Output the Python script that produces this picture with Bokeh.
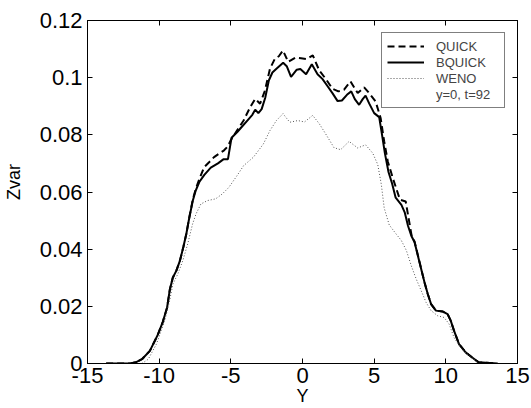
from bokeh.plotting import figure
from bokeh.models import (Range1d, FixedTicker, LinearAxis, CustomJSTickFormatter,
                          Legend, LegendItem)
from bokeh.embed import file_html
from bokeh.resources import INLINE

FONT = "Liberation Sans"

x_ticks = [-15, -10, -5, 0, 5, 10, 15]
y_ticks = [0, 0.02, 0.04, 0.06, 0.08, 0.1, 0.12]

bq_x = [-13.7, -12.0, -11.6, -11.2, -10.65, -10.1, -9.75, -9.45, -9.25, -9.05, -8.8, -8.55, -8.3, -8.1, -7.9,
        -7.65, -7.45, -7.2, -6.85, -6.4, -5.9, -5.5, -5.2, -4.95, -4.55, -4.2, -3.85, -3.5, -3.3, -3.08,
        -2.85, -2.6, -2.35, -2.1, -1.8, -1.35, -1.1, -0.8, -0.4, -0.15, 0.25, 0.65, 1.05, 1.4, 1.75,
        2.1, 2.45, 2.75, 3.1, 3.4, 3.65, 3.95, 4.2, 4.4, 4.65, 5.0, 5.35, 5.55, 5.75, 6.0,
        6.25, 6.5, 6.9, 7.13, 7.36, 7.59, 7.82, 8.05, 8.28, 8.51, 8.74, 8.97, 9.31, 9.77, 10.12,
        10.34, 10.57, 10.92, 11.38, 11.84, 12.29, 13.6]
bq_y = [0, 0, 0.0005, 0.0015, 0.0044, 0.010, 0.0145, 0.0195, 0.026, 0.030, 0.0325, 0.036, 0.041, 0.0455, 0.051,
        0.057, 0.0605, 0.0635, 0.066, 0.0685, 0.070, 0.0715, 0.0715, 0.079, 0.081, 0.083, 0.085, 0.087, 0.0888, 0.0876,
        0.089, 0.093, 0.099, 0.1018, 0.1032, 0.1052, 0.104, 0.1003, 0.1028, 0.103, 0.1012, 0.1047, 0.1012, 0.0995, 0.097,
        0.0945, 0.0918, 0.092, 0.094, 0.0952, 0.0925, 0.0905, 0.0925, 0.0937, 0.091, 0.0876, 0.0862, 0.080, 0.0735, 0.067,
        0.063, 0.058, 0.0555, 0.0529, 0.0482, 0.0447, 0.0424, 0.0377, 0.0331, 0.0284, 0.0243, 0.0208, 0.0185, 0.0182, 0.0173,
        0.015, 0.0115, 0.0068, 0.0039, 0.0021, 0.0004, 0]

q_x = [-13.7, -12.0, -11.6, -11.2, -10.65, -10.1, -9.75, -9.45, -9.25, -9.05, -8.8, -8.55, -8.3, -8.1, -7.9,
       -7.65, -7.45, -7.2, -6.86, -6.5, -6.17, -5.8, -5.49, -5.2, -5.02, -4.57, -4.11, -3.65, -3.3, -2.96,
       -2.62, -2.27, -1.93, -1.65, -1.36, -1.0, -0.5, -0.1, 0.3, 0.72, 1.17, 1.62, 2.09, 2.5, 2.9,
       3.35, 3.85, 4.3, 4.65, 5.1, 5.45, 5.7, 5.95, 6.3, 6.8, 7.2, 7.6, 7.82, 8.05, 8.28,
       8.51, 8.74, 8.97, 9.31, 9.77, 10.12, 10.34, 10.57, 10.92, 11.38, 11.84, 12.29, 13.6]
q_y = [0, 0, 0.0005, 0.0015, 0.0044, 0.010, 0.0145, 0.0195, 0.026, 0.030, 0.0325, 0.036, 0.041, 0.0455, 0.051,
       0.0575, 0.061, 0.0645, 0.0687, 0.0705, 0.0722, 0.0735, 0.0745, 0.076, 0.078, 0.0815, 0.085, 0.0897, 0.0926, 0.0909,
       0.0955, 0.1031, 0.1066, 0.1075, 0.1095, 0.1055, 0.107, 0.1068, 0.1065, 0.1078, 0.1025, 0.0996, 0.0961, 0.0952, 0.0958,
       0.0987, 0.0946, 0.0966, 0.0946, 0.0917, 0.0859, 0.0777, 0.0707, 0.0649, 0.0573, 0.0567, 0.0451, 0.0426, 0.0379, 0.0331,
       0.0284, 0.0243, 0.0208, 0.0185, 0.0182, 0.0173, 0.015, 0.0115, 0.0068, 0.0039, 0.0021, 0.0004, 0]

w_x = [-11.2, -10.76, -10.19, -9.61, -9.27, -9.04, -8.7, -8.35, -8.01, -7.67, -7.43, -7.09, -6.63, -6.06, -5.6,
       -5.14, -4.57, -4.11, -3.42, -2.73, -2.27, -1.82, -1.36, -0.89, -0.32, 0.14, 0.71, 1.17, 1.62, 2.2,
       2.66, 3.25, 3.85, 4.4, 4.9, 5.25, 5.5, 5.7, 6.05, 6.5, 6.9, 7.25, 7.59, 7.93, 8.28,
       8.62, 8.97, 9.43, 9.88, 10.23, 10.57, 11.03, 11.49, 11.95, 12.29]
w_y = [0, 0.0015, 0.0068, 0.015, 0.022, 0.0278, 0.0313, 0.036, 0.0418, 0.0488, 0.0523, 0.0558, 0.057, 0.0576, 0.0593,
       0.0616, 0.0657, 0.0692, 0.0722, 0.0768, 0.0815, 0.085, 0.0874, 0.0844, 0.085, 0.0845, 0.0868, 0.0839, 0.0803, 0.0755,
       0.0748, 0.0777, 0.0754, 0.0765, 0.0736, 0.0696, 0.0626, 0.0544, 0.0485, 0.0455, 0.043, 0.0395, 0.0342, 0.0296, 0.0255,
       0.0214, 0.0185, 0.0167, 0.0161, 0.0138, 0.0091, 0.0056, 0.0033, 0.0015, 0]

series_labels = ["QUICK", "BQUICK", "WENO"]
note_label = "y=0, t=92"
x_title = "Y"
y_title = "Zvar"

p = figure(width=531, height=408, output_backend="svg", toolbar_location=None,
           x_range=Range1d(-15, 15), y_range=Range1d(0, 0.12),
           x_axis_location=None, y_axis_location=None,
           min_border_left=82, min_border_right=14, min_border_top=20, min_border_bottom=45)
p.xgrid.visible = False
p.ygrid.visible = False
p.outline_line_color = "black"
p.outline_line_width = 1
p.background_fill_color = "white"
p.border_fill_color = "white"

fmt = CustomJSTickFormatter(code="""
if (Math.abs(tick) < 1e-12) { return '0'; }
return String(parseFloat(tick.toFixed(4)));
""")
blank = CustomJSTickFormatter(code="return '';")

def make_axis(ticks, show_labels):
    ax = LinearAxis(ticker=FixedTicker(ticks=ticks, minor_ticks=[]),
                    formatter=fmt if show_labels else blank)
    ax.major_tick_in = 5
    ax.major_tick_out = 0
    ax.minor_tick_in = 0
    ax.minor_tick_out = 0
    ax.axis_line_color = "black"
    ax.major_tick_line_color = "black"
    ax.major_label_text_font = FONT
    ax.major_label_text_color = "black"
    ax.major_label_text_font_size = "22px"
    ax.axis_label_text_font = FONT
    ax.axis_label_text_font_style = "normal"
    ax.axis_label_text_font_size = "18px"
    ax.axis_label_text_color = "black"
    if not show_labels:
        ax.major_label_standoff = 0
    return ax

xb = make_axis(x_ticks, True)
xb.major_label_standoff = 4
xb.axis_label = x_title
xb.axis_label_standoff = 0
yl = make_axis(y_ticks, True)
yl.major_label_standoff = 5
# leading no-break spaces nudge the rotated title upward, as in the reference
yl.axis_label = "\u00a0\u00a0\u00a0\u00a0" + y_title
yl.axis_label_standoff = 13
p.add_layout(xb, "below")
p.add_layout(yl, "left")
p.add_layout(make_axis(x_ticks, False), "above")
p.add_layout(make_axis(y_ticks, False), "right")

r_q = p.line(q_x, q_y, line_color="black", line_width=2, line_dash="7 4")
r_b = p.line(bq_x, bq_y, line_color="black", line_width=2)
r_w = p.line(w_x, w_y, line_color="#555555", line_width=1, line_dash="1 2")
r_n = p.line([], [], line_alpha=0)

legend = Legend(items=[LegendItem(label=series_labels[0], renderers=[r_q]),
                       LegendItem(label=series_labels[1], renderers=[r_b]),
                       LegendItem(label=series_labels[2], renderers=[r_w]),
                       LegendItem(label=note_label, renderers=[r_n])],
                location="top_right", margin=12, padding=5, spacing=0,
                glyph_width=37, glyph_height=16, label_height=16, label_width=63,
                label_standoff=12, label_text_font=FONT, label_text_font_size="13px",
                border_line_color="black", border_line_width=1,
                background_fill_color="white", background_fill_alpha=1)
p.add_layout(legend)

open("out.html", "w").write(file_html(p, INLINE))
